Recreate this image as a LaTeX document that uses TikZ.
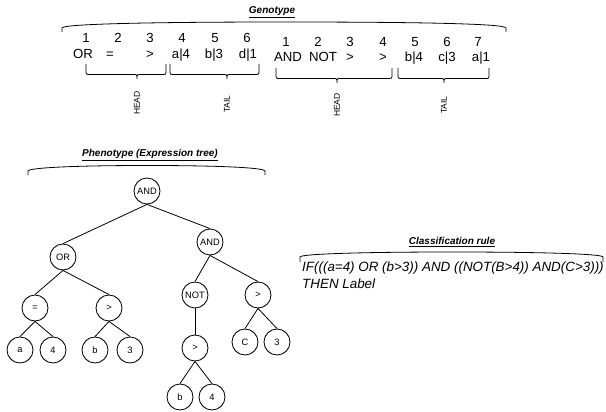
\documentclass[tikz,border=0pt]{standalone}
\usepackage{fontspec}
\setmainfont{Liberation Sans}
\newcommand{\gbrace}[4]{%
\draw[br] (#1,#4) -- (#1,{#4+6}) .. controls (#1,{#4+10.5}) .. ({#1+4},{#4+10.5}) -- ({#3-4},{#4+10.5}) .. controls (#3,{#4+10.5}) .. (#3,{#4+15}) .. controls (#3,{#4+10.5}) .. ({#3+4},{#4+10.5}) -- ({#2-4},{#4+10.5}) .. controls (#2,{#4+10.5}) .. (#2,{#4+6}) -- (#2,#4);}
\begin{document}
\begin{tikzpicture}[x=1pt,y=-1pt,
  tn/.style={circle,draw,line width=0.85pt,minimum size=26pt,inner sep=0pt,font=\fontsize{9.3}{11}\selectfont},
  gt/.style={font=\fontsize{13.2}{15}\selectfont,anchor=base,inner sep=0pt},
  ttl/.style={font=\fontsize{10}{12}\selectfont\bfseries\itshape,inner sep=0pt},
  lbl/.style={font=\fontsize{8.5}{10}\selectfont,rotate=90,inner sep=0pt},
  rule/.style={font=\fontsize{13.4}{15}\selectfont\itshape,anchor=base west,inner sep=0pt},
  br/.style={line width=0.8pt},
  edge/.style={line width=0.8pt}]
\useasboundingbox (0,0) rectangle (606,412);

% ---------- Genotype ----------
\node[ttl] (gtitle) at (272,12) {\underline{Genotype}};
\draw[br] (62,32) -- (62,28) .. controls (62,24) and (150,22) .. (284,22) .. controls (430,22) and (506,24) .. (506,28) -- (506,32);

\foreach \x/\n [count=\i] in {86/1,118/2,150/3,182/4,215/5,247/6}
  \node[gt] (ga\i) at (\x,43) {\n};
\node[gt] (gas1) at (83,58.5) {OR};
\node[gt] (gas2) at (110,58.5) {=};
\node[gt] (gas3) at (150,58.5) {>};
\node[gt] (gas4) at (181,58.5) {a|4};
\node[gt] (gas5) at (214,58.5) {b|3};
\node[gt] (gas6) at (248,58.5) {d|1};

\foreach \x/\n [count=\i] in {286/1,318/2,350/3,383/4,415/5,447/6,478/7}
  \node[gt] (gb\i) at (\x,46.5) {\n};
\node[gt] (gbs1) at (288,62) {AND};
\node[gt] (gbs2) at (323,62) {NOT};
\node[gt] (gbs3) at (350,62) {>};
\node[gt] (gbs4) at (383,62) {>};
\node[gt] (gbs5) at (414,62) {b|4};
\node[gt] (gbs6) at (447,62) {c|3};
\node[gt] (gbs7) at (481,62) {a|1};

\gbrace{86}{166}{137}{64}
\gbrace{170}{259}{227}{64}
\gbrace{276}{392}{337}{68}
\gbrace{398}{489}{444}{68}

\node[lbl] (head1) at (137,103) {HEAD};
\node[lbl] (tail1) at (227,104) {TAIL};
\node[lbl] (head2) at (337,105) {HEAD};
\node[lbl] (tail2) at (444,105) {TAIL};

% ---------- Phenotype ----------
\node[ttl] (ptitle) at (150,155) {\underline{Phenotype (Expression tree)}};
\draw[br] (28,175) -- (28,171) .. controls (28,168) and (70,165.5) .. (147,165.5) .. controls (225,165.5) and (265,168) .. (265,171) -- (265,175);

\node[tn] (root) at (147,191) {AND};
\node[tn] (or) at (63,257) {OR};
\node[tn] (and2) at (210,242) {AND};
\node[tn] (eq) at (35,308) {=};
\node[tn] (gt1) at (109,308) {>};
\node[tn] (la) at (20,350) {a};
\node[tn] (l4) at (53,350) {4};
\node[tn] (lb) at (95,350) {b};
\node[tn] (l3) at (130,350) {3};
\node[tn] (not) at (195,295) {NOT};
\node[tn] (gt2) at (258,295) {>};
\node[tn] (lc) at (245,342) {C};
\node[tn] (l3b) at (277,342) {3};
\node[tn] (gt3) at (195,348) {>};
\node[tn] (lb2) at (180,397) {b};
\node[tn] (l4b) at (212,397) {4};

\foreach \p/\c in {root/or,root/and2,or/eq,or/gt1,eq/la,eq/l4,gt1/lb,gt1/l3,and2/not,and2/gt2,gt2/lc,gt2/l3b,not/gt3,gt3/lb2,gt3/l4b}
  \draw[edge] (\p.south) -- (\c.north);

% ---------- Classification rule ----------
\node[ttl] (ctitle) at (452,242) {\underline{Classification rule}};
\draw[br] (300,262) -- (300,257) .. controls (300,254) and (360,252) .. (452,252) .. controls (545,252) and (603,254) .. (603,257) -- (603,262);
\node[rule] (r1) at (302,271) {IF(((a=4) OR (b>3)) AND ((NOT(B>4)) AND(C>3)))};
\node[rule] (r2) at (302,288) {THEN Label};
\end{tikzpicture}
\end{document}
